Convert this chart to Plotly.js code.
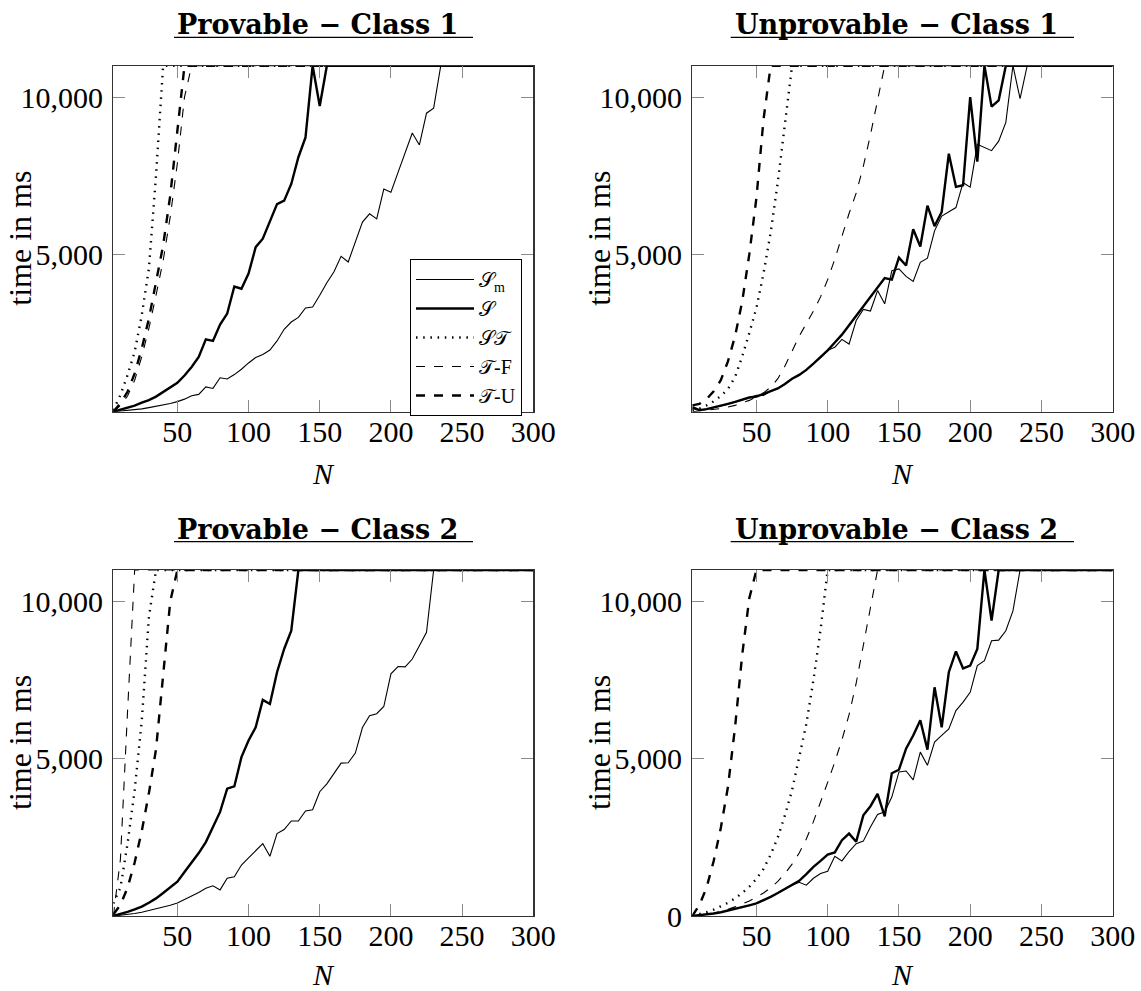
<!DOCTYPE html>
<html>
<head>
<meta charset="utf-8">
<script src="https://cdn.plot.ly/plotly-3.0.1.min.js"></script>
<style>html,body{margin:0;padding:0;background:#fff;}#chart{width:1141px;height:991px;}</style>
</head>
<body>
<div id="chart"></div>
<script>
// ---------- data ----------
const N = [5,10,15,20,25,30,35,40,45,50,55,60,65,70,75,80,85,90,95,100,105,110,115,120,125,130,135,140,145,150,155,160,165,170,175,180,185,190,195,200,205,210,215,220,225,230,235,240,245,250,255,260,265,270,275,280,285,290,295,300];

const X_TICKS = [50,100,150,200,250,300];
const X_TICK_LABELS = ['50','100','150','200','250','300'];
const Y_TICKS = [5000,10000];
const Y_TICK_LABELS = ['5,000','10,000'];
const Y_TICKS_BR = [0,5000,10000];
const Y_TICK_LABELS_BR = ['0','5,000','10,000'];

const SERIES_NAMES = ['𝒮<sub>m</sub>','𝒮','𝒮𝒯','𝒯-F','𝒯-U'];
const PANEL_TITLES = ['Provable − Class 1','Unprovable − Class 1','Provable − Class 2','Unprovable − Class 2'];

// Provable - Class 1
const P1_Sm = [0,20,40,60,90,130,170,210,260,320,400,510,550,790,740,1080,1040,1180,1350,1550,1720,1820,1960,2250,2620,2850,3000,3300,3330,3700,4100,4450,4940,4760,5400,6030,6290,6130,7080,6980,7610,8250,8860,8480,9490,9650,11000,11000,11000,11000,11000,11000,11000,11000,11000,11000,11000,11000,11000,11000];
const P1_S = [0,60,110,190,290,370,480,630,760,920,1150,1420,1740,2300,2250,2770,3120,3980,3910,4390,5230,5500,6050,6600,6710,7240,8090,8720,11000,9720,11000,11000,11000,11000,11000,11000,11000,11000,11000,11000,11000,11000,11000,11000,11000,11000,11000,11000,11000,11000,11000,11000,11000,11000,11000,11000,11000,11000,11000,11000];
const P1_ST = [50,530,1160,1900,3070,4550,7500,11000,11000,11000,11000,11000,11000,11000,11000,11000,11000,11000,11000,11000,11000,11000,11000,11000,11000,11000,11000,11000,11000,11000,11000,11000,11000,11000,11000,11000,11000,11000,11000,11000,11000,11000,11000,11000,11000,11000,11000,11000,11000,11000,11000,11000,11000,11000,11000,11000,11000,11000,11000,11000];
const P1_TF = [0,200,500,1000,1750,2650,3700,4800,6200,7900,10000,11000,11000,11000,11000,11000,11000,11000,11000,11000,11000,11000,11000,11000,11000,11000,11000,11000,11000,11000,11000,11000,11000,11000,11000,11000,11000,11000,11000,11000,11000,11000,11000,11000,11000,11000,11000,11000,11000,11000,11000,11000,11000,11000,11000,11000,11000,11000,11000,11000];
const P1_TU = [0,264,634,1216,2008,2960,4122,5285,6870,8880,11000,11000,11000,11000,11000,11000,11000,11000,11000,11000,11000,11000,11000,11000,11000,11000,11000,11000,11000,11000,11000,11000,11000,11000,11000,11000,11000,11000,11000,11000,11000,11000,11000,11000,11000,11000,11000,11000,11000,11000,11000,11000,11000,11000,11000,11000,11000,11000,11000,11000];

// Unprovable - Class 1
const U1_Sm = [100,40,70,120,170,240,300,370,440,520,520,650,740,880,1050,1160,1330,1520,1720,1950,2050,2300,2150,2900,3250,3200,3850,3430,4480,4540,4300,4140,4750,4880,5750,6220,6350,6490,7280,7140,8500,8400,8300,8600,9200,11000,9950,11000,11000,11000,11000,11000,11000,11000,11000,11000,11000,11000,11000,11000];
const U1_S = [150,50,80,130,180,250,310,380,450,480,560,660,740,880,1050,1170,1330,1530,1730,1950,2200,2450,2750,3050,3350,3650,3950,4250,4200,4900,4650,5800,5250,6550,5900,6350,8200,7150,7200,10000,7950,11000,9700,9900,11000,11000,11000,11000,11000,11000,11000,11000,11000,11000,11000,11000,11000,11000,11000,11000];
const U1_ST = [50,100,200,330,500,720,1100,1750,2500,3300,4400,5700,7300,9200,11000,11000,11000,11000,11000,11000,11000,11000,11000,11000,11000,11000,11000,11000,11000,11000,11000,11000,11000,11000,11000,11000,11000,11000,11000,11000,11000,11000,11000,11000,11000,11000,11000,11000,11000,11000,11000,11000,11000,11000,11000,11000,11000,11000,11000,11000];
const U1_TF = [0,20,40,70,100,150,200,280,360,470,600,780,1050,1450,1950,2400,2800,3200,3650,4200,4850,5600,6300,6950,7800,8800,9900,11000,11000,11000,11000,11000,11000,11000,11000,11000,11000,11000,11000,11000,11000,11000,11000,11000,11000,11000,11000,11000,11000,11000,11000,11000,11000,11000,11000,11000,11000,11000,11000,11000];
const U1_TU = [200,250,400,650,1000,1600,2400,3500,5000,6800,9300,11000,11000,11000,11000,11000,11000,11000,11000,11000,11000,11000,11000,11000,11000,11000,11000,11000,11000,11000,11000,11000,11000,11000,11000,11000,11000,11000,11000,11000,11000,11000,11000,11000,11000,11000,11000,11000,11000,11000,11000,11000,11000,11000,11000,11000,11000,11000,11000,11000];

// Provable - Class 2
const P2_Sm = [0,20,50,80,120,170,220,280,340,410,520,620,750,880,960,830,1200,1250,1620,1850,2080,2300,1900,2620,2750,3020,3020,3340,3380,3950,4200,4550,4860,4870,5180,5990,6370,6430,6660,7700,7930,7920,8170,8590,9020,11000,11000,11000,11000,11000,11000,11000,11000,11000,11000,11000,11000,11000,11000,11000];
const P2_S = [0,60,130,210,300,420,560,730,920,1090,1400,1700,2000,2350,2830,3310,4050,4120,5050,5580,6000,6870,6740,7750,8490,9070,11000,11000,11000,11000,11000,11000,11000,11000,11000,11000,11000,11000,11000,11000,11000,11000,11000,11000,11000,11000,11000,11000,11000,11000,11000,11000,11000,11000,11000,11000,11000,11000,11000,11000];
const P2_ST = [400,900,2300,4000,6200,9500,11000,11000,11000,11000,11000,11000,11000,11000,11000,11000,11000,11000,11000,11000,11000,11000,11000,11000,11000,11000,11000,11000,11000,11000,11000,11000,11000,11000,11000,11000,11000,11000,11000,11000,11000,11000,11000,11000,11000,11000,11000,11000,11000,11000,11000,11000,11000,11000,11000,11000,11000,11000,11000,11000];
const P2_TF = [0,1800,6500,11000,11000,11000,11000,11000,11000,11000,11000,11000,11000,11000,11000,11000,11000,11000,11000,11000,11000,11000,11000,11000,11000,11000,11000,11000,11000,11000,11000,11000,11000,11000,11000,11000,11000,11000,11000,11000,11000,11000,11000,11000,11000,11000,11000,11000,11000,11000,11000,11000,11000,11000,11000,11000,11000,11000,11000,11000];
const P2_TU = [50,350,900,1700,2700,3900,5300,7700,10000,11000,11000,11000,11000,11000,11000,11000,11000,11000,11000,11000,11000,11000,11000,11000,11000,11000,11000,11000,11000,11000,11000,11000,11000,11000,11000,11000,11000,11000,11000,11000,11000,11000,11000,11000,11000,11000,11000,11000,11000,11000,11000,11000,11000,11000,11000,11000,11000,11000,11000,11000];

// Unprovable - Class 2
const U2_Sm = [0,20,50,80,120,170,220,280,340,400,500,610,730,860,980,1070,980,1200,1350,1420,1900,1750,2050,2300,2380,2830,3230,3310,3780,4580,4610,4330,5210,4790,5530,5740,5950,6530,6800,7110,7960,8120,8750,8770,9070,9700,11000,11000,11000,11000,11000,11000,11000,11000,11000,11000,11000,11000,11000,11000];
const U2_S = [0,20,50,80,120,170,220,280,340,400,500,610,730,860,980,1120,1330,1560,1750,1950,2020,2410,2620,2360,3200,3490,3880,3170,4540,4650,5320,5740,6220,5290,7270,6000,7750,8410,7870,7960,8490,11000,9390,11000,11000,11000,11000,11000,11000,11000,11000,11000,11000,11000,11000,11000,11000,11000,11000,11000];
const U2_ST = [0,50,120,200,300,420,560,730,930,1180,1500,1950,2500,3200,4000,5000,6100,7500,9100,11000,11000,11000,11000,11000,11000,11000,11000,11000,11000,11000,11000,11000,11000,11000,11000,11000,11000,11000,11000,11000,11000,11000,11000,11000,11000,11000,11000,11000,11000,11000,11000,11000,11000,11000,11000,11000,11000,11000,11000,11000];
const U2_TF = [0,20,50,90,140,210,290,380,480,600,730,900,1100,1350,1650,2000,2450,3000,3600,4250,4900,5600,6400,7400,8600,9800,11000,11000,11000,11000,11000,11000,11000,11000,11000,11000,11000,11000,11000,11000,11000,11000,11000,11000,11000,11000,11000,11000,11000,11000,11000,11000,11000,11000,11000,11000,11000,11000,11000,11000];
const U2_TU = [0,350,900,1750,2800,4100,6000,8300,10100,11000,11000,11000,11000,11000,11000,11000,11000,11000,11000,11000,11000,11000,11000,11000,11000,11000,11000,11000,11000,11000,11000,11000,11000,11000,11000,11000,11000,11000,11000,11000,11000,11000,11000,11000,11000,11000,11000,11000,11000,11000,11000,11000,11000,11000,11000,11000,11000,11000,11000,11000];

// ---------- build ----------
const W = 1141, H = 991;
const px = v => v / W;
const py = v => 1 - v / H;

const STYLES = [
  {color:'#000', width:1.1, dash:'solid'},
  {color:'#000', width:2.4, dash:'solid'},
  {color:'#000', width:2.4, dash:'1.5px,5.7px'},
  {color:'#000', width:1.1, dash:'9px,9px'},
  {color:'#000', width:2.4, dash:'9px,9px'}
];

const PANELS = [
  {series:[P1_Sm,P1_S,P1_ST,P1_TF,P1_TU], xa:'x',  ya:'y',  legend:true},
  {series:[U1_Sm,U1_S,U1_ST,U1_TF,U1_TU], xa:'x2', ya:'y2', legend:false},
  {series:[P2_Sm,P2_S,P2_ST,P2_TF,P2_TU], xa:'x3', ya:'y3', legend:false},
  {series:[U2_Sm,U2_S,U2_ST,U2_TF,U2_TU], xa:'x4', ya:'y4', legend:false}
];

const traces = [];
PANELS.forEach(p => {
  p.series.forEach((ys, i) => {
    traces.push({
      x: N, y: ys, xaxis: p.xa, yaxis: p.ya,
      type: 'scatter', mode: 'lines',
      name: SERIES_NAMES[i],
      showlegend: p.legend,
      line: Object.assign({shape:'linear'}, STYLES[i]),
      hoverinfo: 'skip'
    });
  });
});

const tickFont = {family:'Liberation Serif, Times New Roman, serif', size:30, color:'#000'};

function xAxis(domain, anchor) {
  return {
    domain: domain, anchor: anchor, range:[5,300],
    tickmode:'array', tickvals: X_TICKS, ticktext: X_TICK_LABELS,
    ticks:'inside', ticklen:12, tickwidth:1, tickcolor:'#8a8a8a',
    showline:true, linecolor:'#333', linewidth:1.2, mirror:'ticks',
    showgrid:false, zeroline:false, tickfont: tickFont,
    ticklabelstandoff: -7, automargin:false, fixedrange:true
  };
}
function yAxis(domain, anchor, tv, tt) {
  return {
    domain: domain, anchor: anchor, range:[0,11000],
    tickmode:'array', tickvals: tv, ticktext: tt,
    ticks:'inside', ticklen:12, tickwidth:1, tickcolor:'#8a8a8a',
    showline:true, linecolor:'#333', linewidth:1.2, mirror:'ticks',
    showgrid:false, zeroline:false, tickfont: tickFont,
    ticklabelstandoff: 3, automargin:false, fixedrange:true
  };
}

const XL = [px(113.3), px(533.3)];
const XR = [px(692.3), px(1112.7)];
const YT = [py(411.7), py(65.7)];
const YB = [py(916), py(570)];

const titleFont = {family:'DejaVu Serif, serif', size:27, color:'#000'};
const axTitleFont = {family:'Liberation Serif, Times New Roman, serif', size:32, color:'#000'};

const centers = [
  {cx:317, ty:25, ux0:174, ux1:473, uy:37.3, ycx:20, pcy:238.7, nx:323.3, ny:473},
  {cx:896, ty:25, ux0:730.7, ux1:1074, uy:37.3, ycx:599, pcy:238.7, nx:902.5, ny:473},
  {cx:317, ty:529.3, ux0:174, ux1:473, uy:541.6, ycx:20, pcy:743, nx:323.3, ny:974},
  {cx:896, ty:529.3, ux0:730.7, ux1:1074, uy:541.6, ycx:599, pcy:743, nx:902.5, ny:974}
];

const annotations = [];
const shapes = [];
centers.forEach((c, i) => {
  annotations.push({
    xref:'paper', yref:'paper', x:px(c.cx), y:py(c.ty), xanchor:'center', yanchor:'middle',
    text:'<b>' + PANEL_TITLES[i] + '</b>', showarrow:false, font:titleFont
  });
  shapes.push({
    type:'line', xref:'paper', yref:'paper', x0:px(c.ux0), x1:px(c.ux1), y0:py(c.uy), y1:py(c.uy),
    line:{color:'#000', width:1.3}
  });
  annotations.push({
    xref:'paper', yref:'paper', x:px(c.ycx), y:py(c.pcy), xanchor:'center', yanchor:'middle',
    text:'time in ms', textangle:-90, showarrow:false, font:axTitleFont
  });
  annotations.push({
    xref:'paper', yref:'paper', x:px(c.nx), y:py(c.ny), xanchor:'center', yanchor:'middle',
    text:'<i>N</i>', showarrow:false, borderpad:0,
    font:{family:'Liberation Serif, serif', size:30, color:'#000'}
  });
});

const layout = {
  width: W, height: H,
  margin:{l:0, r:0, t:0, b:0},
  paper_bgcolor:'#fff', plot_bgcolor:'#fff',
  showlegend:true,
  legend:{
    x: px(410), y: py(259), xanchor:'left', yanchor:'top',
    bgcolor:'#fff', bordercolor:'#000', borderwidth:1,
    font:{family:'Liberation Serif, DejaVu Serif, serif', size:20, color:'#000'},
    itemwidth:58, tracegroupgap:0
  },
  xaxis: xAxis(XL, 'y'),
  yaxis: yAxis(YT, 'x', Y_TICKS, Y_TICK_LABELS),
  xaxis2: xAxis(XR, 'y2'),
  yaxis2: yAxis(YT, 'x2', Y_TICKS, Y_TICK_LABELS),
  xaxis3: xAxis(XL, 'y3'),
  yaxis3: yAxis(YB, 'x3', Y_TICKS, Y_TICK_LABELS),
  xaxis4: xAxis(XR, 'y4'),
  yaxis4: yAxis(YB, 'x4', Y_TICKS_BR, Y_TICK_LABELS_BR),
  annotations: annotations,
  shapes: shapes
};

Plotly.newPlot('chart', traces, layout, {staticPlot:true, displayModeBar:false});
</script>
</body>
</html>
